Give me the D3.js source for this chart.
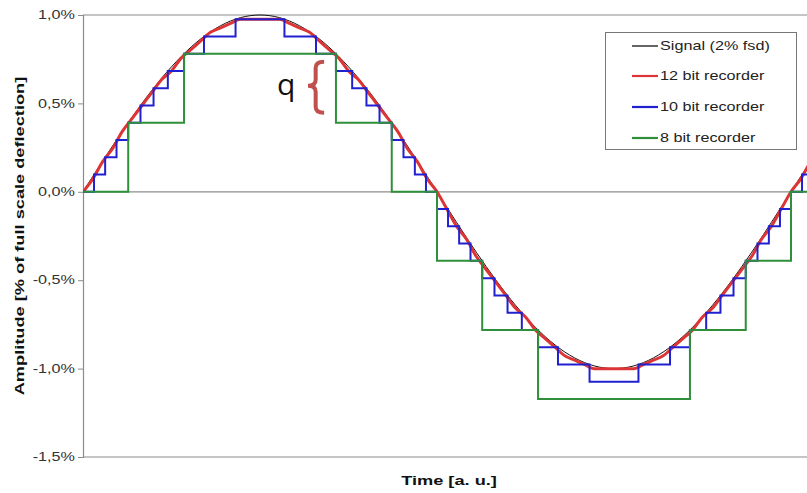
<!DOCTYPE html>
<html>
<head>
<meta charset="utf-8">
<script src="https://cdn.jsdelivr.net/npm/d3@7"></script>
<style>
  html, body { margin: 0; padding: 0; background: #ffffff; }
  svg { display: block; font-family: "Liberation Sans", Arial, sans-serif; }
</style>
</head>
<body>
<svg id="chart" width="807" height="493"></svg>
<script>
// ---------------- data ----------------
const seriesNames = ["Signal (2% fsd)", "12 bit recorder", "10 bit recorder", "8 bit recorder"];
const seriesColors = ["#111111", "#dd3535", "#2020d0", "#2f8f3a"];

// sample times (a. u., degrees of phase)
const times = d3.range(0, 380, 5);

// Signal (% of fsd)
const signal = [
  0, 0.0872, 0.1736, 0.2588, 0.3420, 0.4226, 0.5, 0.5736, 0.6428, 0.7071, 0.7660, 0.8192, 0.8660, 0.9063, 0.9397, 0.9659, 0.9848, 0.9962, 1,
  0.9962, 0.9848, 0.9659, 0.9397, 0.9063, 0.8660, 0.8192, 0.7660, 0.7071, 0.6428, 0.5736, 0.5, 0.4226, 0.3420, 0.2588, 0.1736, 0.0872, 0,
  -0.0872, -0.1736, -0.2588, -0.3420, -0.4226, -0.5, -0.5736, -0.6428, -0.7071, -0.7660, -0.8192, -0.8660, -0.9063, -0.9397, -0.9659, -0.9848, -0.9962, -1,
  -0.9962, -0.9848, -0.9659, -0.9397, -0.9063, -0.8660, -0.8192, -0.7660, -0.7071, -0.6428, -0.5736, -0.5, -0.4226, -0.3420, -0.2588, -0.1736, -0.0872,
  0, 0.0872, 0.1736, 0.2588
];

// 12 bit recorder (% of fsd)
const rec12 = [
  0, 0.0732, 0.1709, 0.2441, 0.3418, 0.4150, 0.4883, 0.5615, 0.6348, 0.6836, 0.7568, 0.8057, 0.8545, 0.9033, 0.9277, 0.9521, 0.9766, 0.9766, 0.9766,
  0.9766, 0.9766, 0.9521, 0.9277, 0.9033, 0.8545, 0.8057, 0.7568, 0.6836, 0.6348, 0.5615, 0.4883, 0.4150, 0.3418, 0.2441, 0.1709, 0.0732, 0,
  -0.0977, -0.1953, -0.2686, -0.3662, -0.4395, -0.5127, -0.5859, -0.6592, -0.7080, -0.7813, -0.8301, -0.8789, -0.9277, -0.9521, -0.9766, -1.0010, -1.0010, -1.0010,
  -1.0010, -1.0010, -0.9766, -0.9521, -0.9277, -0.8789, -0.8301, -0.7813, -0.7080, -0.6592, -0.5859, -0.5127, -0.4395, -0.3662, -0.2686, -0.1953, -0.0977,
  0, 0.0732, 0.1709, 0.2441
];

// 10 bit recorder: level changes (time, level)
const rec10Times = [0, 5.61, 11.26, 17.04, 22.99, 29.23, 35.87, 43.13, 51.38, 61.51, 77.57,
  102.43, 118.49, 128.62, 136.87, 144.13, 150.77, 156.99, 162.96, 168.74, 174.39,
  180, 185.61, 191.26, 197.04, 202.99, 209.23, 215.87, 223.13, 231.38, 241.51, 257.57,
  282.43, 298.49, 308.62, 316.87, 324.13, 330.77, 336.99, 342.96, 348.74, 354.39,
  360, 365.61, 371.26, 375];
const rec10Levels = [0, 0.0977, 0.1953, 0.2930, 0.3906, 0.4883, 0.5859, 0.6836, 0.7813, 0.8789, 0.9766,
  0.8789, 0.7813, 0.6836, 0.5859, 0.4883, 0.3906, 0.2930, 0.1953, 0.0977, 0,
  -0.0977, -0.1953, -0.2930, -0.3906, -0.4883, -0.5859, -0.6836, -0.7813, -0.8789, -0.9766, -1.0742,
  -0.9766, -0.8789, -0.7813, -0.6836, -0.5859, -0.4883, -0.3906, -0.2930, -0.1953, -0.0977,
  0, 0.0977, 0.1953, 0.1953];

// 8 bit recorder: level changes (time, level)
const rec8Times = [0, 22.99, 51.38, 128.62, 156.99, 180, 202.99, 231.38, 308.62, 336.99, 360, 375];
const rec8Levels = [0, 0.3906, 0.7813, 0.3906, 0, -0.3906, -0.7813, -1.1719, -0.7813, -0.3906, 0, 0];

// axis
const yTicks = [1.0, 0.5, 0.0, -0.5, -1.0, -1.5];
const yTickLabels = ["1,0%", "0,5%", "0,0%", "-0,5%", "-1,0%", "-1,5%"];
const xTitle = "Time [a. u.]";
const yTitle = "Amplitude [% of full scale deflection]";

// annotation (brace marking q), in data units
const braceT = [114.4, 118.3, 122.6];   // tip, stem, ends
const braceV = [0.735, 0.600, 0.447];   // top, middle, bottom
const qLabel = { t: 98.6, v: 0.549, text: "q" };

// ---------------- drawing ----------------
const svg = d3.select("#chart");
const mLeft = 83, mTop = 15, mBottom = 457, mRight = 820.5;
const TX = 1.35; // horizontal text stretch of the original

const x = d3.scaleLinear().domain([0, 375]).range([mLeft, mRight]);
const y = d3.scaleLinear().domain([-1.5, 1.0]).range([mBottom, mTop]);

svg.append("defs").append("clipPath").attr("id", "clip")
  .append("rect").attr("x", mLeft).attr("y", mTop - 5).attr("width", mRight - mLeft).attr("height", mBottom - mTop + 10);

// frame lines
const gray = "#8c8c8c";
[1.0, -1.5, 0].forEach(v => {
  svg.append("line").attr("x1", mLeft).attr("x2", 807).attr("y1", y(v)).attr("y2", y(v))
    .attr("stroke", gray).attr("stroke-width", 1.2);
});

// y axis
const yAxis = d3.axisLeft(y).tickValues(yTicks).tickSize(5).tickFormat(() => "");
const ga = svg.append("g").attr("transform", `translate(${mLeft},0)`).call(yAxis);
ga.select(".domain").attr("stroke", gray).attr("stroke-width", 1.2);
ga.selectAll(".tick line").attr("stroke", gray);

svg.append("g").selectAll("text").data(yTicks).join("text")
  .attr("transform", d => `translate(75,${y(d)}) scale(${TX},1)`)
  .attr("dy", "0.35em")
  .attr("text-anchor", "end")
  .attr("font-size", 12)
  .attr("fill", "#333")
  .text((d, i) => yTickLabels[i]);

// titles
svg.append("text")
  .attr("transform", `translate(449,485) scale(${TX},1)`)
  .attr("text-anchor", "middle").attr("font-size", 13.5).attr("font-weight", "bold").attr("fill", "#111")
  .text(xTitle);
svg.append("text")
  .attr("transform", `translate(24,236) rotate(-90) scale(${TX},1)`)
  .attr("text-anchor", "middle").attr("font-size", 13.5).attr("font-weight", "bold").attr("fill", "#111")
  .text(yTitle);

// series
const plot = svg.append("g").attr("clip-path", "url(#clip)");
const lineSmooth = d3.line().x(d => x(d[0])).y(d => y(d[1])).curve(d3.curveMonotoneX);
const lineStep = d3.line().x(d => x(d[0])).y(d => y(d[1])).curve(d3.curveStepAfter);

plot.append("path").datum(times.map((t, i) => [t, signal[i]]))
  .attr("d", lineSmooth).attr("fill", "none").attr("stroke", seriesColors[0]).attr("stroke-width", 1);
plot.append("path").datum(times.map((t, i) => [t, rec12[i]]))
  .attr("d", lineSmooth).attr("fill", "none").attr("stroke", seriesColors[1]).attr("stroke-width", 3)
  .attr("stroke-linejoin", "round");
plot.append("path").datum(rec10Times.map((t, i) => [t, rec10Levels[i]]))
  .attr("d", lineStep).attr("fill", "none").attr("stroke", seriesColors[2]).attr("stroke-width", 2);
plot.append("path").datum(rec8Times.map((t, i) => [t, rec8Levels[i]]))
  .attr("d", lineStep).attr("fill", "none").attr("stroke", seriesColors[3]).attr("stroke-width", 2);

// legend
const lg = svg.append("g");
lg.append("rect").attr("x", 605.5).attr("y", 32.5).attr("width", 191).attr("height", 117)
  .attr("fill", "#fff").attr("stroke", "#777").attr("stroke-width", 1);
const rowsY = [46, 76, 107, 138];
seriesNames.forEach((name, i) => {
  lg.append("line").attr("x1", 632).attr("x2", 658).attr("y1", rowsY[i]).attr("y2", rowsY[i])
    .attr("stroke", seriesColors[i]).attr("stroke-width", i === 0 ? 1.3 : 2.2);
  lg.append("text")
    .attr("transform", `translate(660,${rowsY[i]}) scale(${TX},1)`)
    .attr("dy", "0.35em").attr("font-size", 12).attr("fill", "#222")
    .text(name);
});

// annotation brace
const bx = braceT.map(x), by = braceV.map(y);
const k = 6;
const bracePath = `M${bx[2]},${by[0]} Q${bx[1]},${by[0]} ${bx[1]},${by[0] + k}` +
  ` L${bx[1]},${by[1] - k} Q${bx[1]},${by[1]} ${bx[0]},${by[1]}` +
  ` Q${bx[1]},${by[1]} ${bx[1]},${by[1] + k}` +
  ` L${bx[1]},${by[2] - k} Q${bx[1]},${by[2]} ${bx[2]},${by[2]}`;
svg.append("path").attr("d", bracePath).attr("fill", "none")
  .attr("stroke", "#c0504d").attr("stroke-width", 4).attr("stroke-linecap", "butt");
svg.append("text").attr("x", x(qLabel.t)).attr("y", y(qLabel.v))
  .attr("font-family", "Open Sans, Liberation Sans, sans-serif")
  .attr("font-size", 30).attr("fill", "#111").text(qLabel.text);
</script>
</body>
</html>
